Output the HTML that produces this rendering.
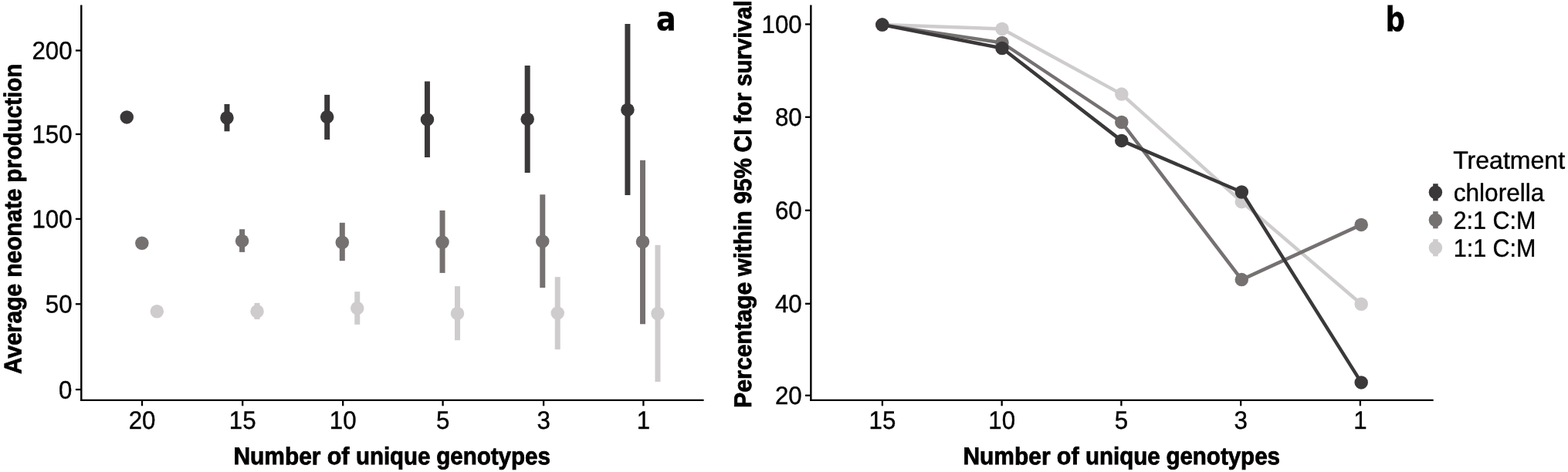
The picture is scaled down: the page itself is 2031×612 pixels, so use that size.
<!DOCTYPE html>
<html lang="en"><head><meta charset="utf-8"><title>Figure</title>
<style>html,body{margin:0;padding:0;background:#fff;}body{width:2031px;height:612px;overflow:hidden;}svg{display:block;}text{font-family:"Liberation Sans", Arial, Helvetica, sans-serif;fill:#000;}</style>
</head><body>
<svg width="2031" height="612" viewBox="0 0 2031 612" role="img" aria-label="Two-panel figure: (a) average neonate production and (b) percentage within 95% CI for survival, by number of unique genotypes and treatment">
<rect x="0" y="0" width="2031" height="612" fill="#ffffff"/>
<g id="panel-a">
<line x1="105.3" y1="6.4" x2="105.3" y2="520.07" stroke="#000000" stroke-width="2.4"/>
<line x1="104.1" y1="518.9" x2="911.6" y2="518.9" stroke="#000000" stroke-width="2.35"/>
<line x1="97.9" y1="65.5" x2="105.3" y2="65.5" stroke="#000000" stroke-width="2.3"/>
<line x1="97.9" y1="174" x2="105.3" y2="174" stroke="#000000" stroke-width="2.3"/>
<line x1="97.9" y1="283.9" x2="105.3" y2="283.9" stroke="#000000" stroke-width="2.3"/>
<line x1="97.9" y1="394.25" x2="105.3" y2="394.25" stroke="#000000" stroke-width="2.3"/>
<line x1="97.9" y1="505.1" x2="105.3" y2="505.1" stroke="#000000" stroke-width="2.3"/>
<line x1="184" y1="518.9" x2="184" y2="526.3" stroke="#000000" stroke-width="2.3"/>
<line x1="314.2" y1="518.9" x2="314.2" y2="526.3" stroke="#000000" stroke-width="2.3"/>
<line x1="444.2" y1="518.9" x2="444.2" y2="526.3" stroke="#000000" stroke-width="2.3"/>
<line x1="573.6" y1="518.9" x2="573.6" y2="526.3" stroke="#000000" stroke-width="2.3"/>
<line x1="704.1" y1="518.9" x2="704.1" y2="526.3" stroke="#000000" stroke-width="2.3"/>
<line x1="833.4" y1="518.9" x2="833.4" y2="526.3" stroke="#000000" stroke-width="2.3"/>
<g fill="#3a3839" stroke="#3a3839">
<circle cx="164.25" cy="151.9" r="8.75" stroke="none"/>
<line x1="293.98" y1="135" x2="293.98" y2="170.3" stroke-width="7.0"/>
<circle cx="293.98" cy="152.7" r="8.75" stroke="none"/>
<line x1="423.71" y1="122.9" x2="423.71" y2="181" stroke-width="7.0"/>
<circle cx="423.71" cy="151.6" r="8.75" stroke="none"/>
<line x1="553.44" y1="105.5" x2="553.44" y2="204" stroke-width="7.0"/>
<circle cx="553.44" cy="154.9" r="8.75" stroke="none"/>
<line x1="683.17" y1="85.1" x2="683.17" y2="224" stroke-width="7.0"/>
<circle cx="683.17" cy="154.4" r="8.75" stroke="none"/>
<line x1="812.9" y1="31.1" x2="812.9" y2="252.9" stroke-width="7.0"/>
<circle cx="812.9" cy="142.4" r="8.75" stroke="none"/>
</g>
<g fill="#767171" stroke="#767171">
<circle cx="183.85" cy="315.2" r="8.75" stroke="none"/>
<line x1="313.58" y1="297.2" x2="313.58" y2="326.9" stroke-width="7.0"/>
<circle cx="313.58" cy="312.4" r="8.75" stroke="none"/>
<line x1="443.31" y1="288.8" x2="443.31" y2="338.2" stroke-width="7.0"/>
<circle cx="443.31" cy="314.3" r="8.75" stroke="none"/>
<line x1="573.04" y1="272.85" x2="573.04" y2="353.9" stroke-width="7.0"/>
<circle cx="573.04" cy="314" r="8.75" stroke="none"/>
<line x1="702.77" y1="252.25" x2="702.77" y2="373.1" stroke-width="7.0"/>
<circle cx="702.77" cy="312.9" r="8.75" stroke="none"/>
<line x1="832.5" y1="207.8" x2="832.5" y2="420.3" stroke-width="7.0"/>
<circle cx="832.5" cy="313.55" r="8.75" stroke="none"/>
</g>
<g fill="#cfcccd" stroke="#cfcccd">
<circle cx="203.3" cy="403.7" r="8.75" stroke="none"/>
<line x1="333.03" y1="392.8" x2="333.03" y2="414" stroke-width="7.0"/>
<circle cx="333.03" cy="403.8" r="8.75" stroke="none"/>
<line x1="462.76" y1="378.1" x2="462.76" y2="420.8" stroke-width="7.0"/>
<circle cx="462.76" cy="399.6" r="8.75" stroke="none"/>
<line x1="592.49" y1="371.1" x2="592.49" y2="441.2" stroke-width="7.0"/>
<circle cx="592.49" cy="406.4" r="8.75" stroke="none"/>
<line x1="722.22" y1="359.15" x2="722.22" y2="453.1" stroke-width="7.0"/>
<circle cx="722.22" cy="405.9" r="8.75" stroke="none"/>
<line x1="851.95" y1="317.75" x2="851.95" y2="495" stroke-width="7.0"/>
<circle cx="851.95" cy="406.5" r="8.75" stroke="none"/>
</g>
<text transform="translate(41.41 76.75) rotate(0.03) scale(0.9550 1)" font-size="32.7" stroke="#000" stroke-width="0.4">200</text>
<text transform="translate(41.41 185.25) rotate(0.03) scale(0.9550 1)" font-size="32.7" stroke="#000" stroke-width="0.4">150</text>
<text transform="translate(41.41 295.15) rotate(0.03) scale(0.9550 1)" font-size="32.7" stroke="#000" stroke-width="0.4">100</text>
<text transform="translate(58.83 405.5) rotate(0.03) scale(0.9550 1)" font-size="32.7" stroke="#000" stroke-width="0.4">50</text>
<text transform="translate(76.02 516.85) rotate(0.03) scale(0.9550 1)" font-size="32.7" stroke="#000" stroke-width="0.4">0</text>
<text transform="translate(166.63 556.1) rotate(0.03) scale(0.9550 1)" font-size="32.7" stroke="#000" stroke-width="0.4">20</text>
<text transform="translate(296.83 556.1) rotate(0.03) scale(0.9550 1)" font-size="32.7" stroke="#000" stroke-width="0.4">15</text>
<text transform="translate(426.83 556.1) rotate(0.03) scale(0.9550 1)" font-size="32.7" stroke="#000" stroke-width="0.4">10</text>
<text transform="translate(564.92 556.1) rotate(0.03) scale(0.9550 1)" font-size="32.7" stroke="#000" stroke-width="0.4">5</text>
<text transform="translate(695.42 556.1) rotate(0.03) scale(0.9550 1)" font-size="32.7" stroke="#000" stroke-width="0.4">3</text>
<text transform="translate(824.72 556.1) rotate(0.03) scale(0.9550 1)" font-size="32.7" stroke="#000" stroke-width="0.4">1</text>
<text transform="translate(302.38 602.1) rotate(0.03) scale(0.9474 1)" font-size="31.6" font-weight="bold" stroke="#000" stroke-width="0.8">Number </text>
<text transform="translate(423.68 602.1) rotate(0.03) scale(0.9645 1)" font-size="31.6" font-weight="bold" stroke="#000" stroke-width="0.8">of </text>
<text transform="translate(460.91 602.1) rotate(0.03) scale(0.9329 1)" font-size="31.6" font-weight="bold" stroke="#000" stroke-width="0.8">unique </text>
<text transform="translate(565.31 602.1) rotate(0.03) scale(0.9341 1)" font-size="31.6" font-weight="bold" stroke="#000" stroke-width="0.8">genotypes</text>
<text transform="translate(27.4 484.93) rotate(-89.97) scale(0.9474 1)" font-size="31.6" font-weight="bold" stroke="#000" stroke-width="0.8">Average </text>
<text transform="translate(27.4 359.82) rotate(-89.97) scale(0.9512 1)" font-size="31.6" font-weight="bold" stroke="#000" stroke-width="0.8">neonate </text>
<text transform="translate(27.4 236.8) rotate(-89.97) scale(0.9351 1)" font-size="31.6" font-weight="bold" stroke="#000" stroke-width="0.8">production</text>
<text transform="translate(850.02 39.3) rotate(0.03) scale(0.9861 1)" font-size="43.0" style="font-family:'DejaVu Sans Condensed', 'DejaVu Sans', 'Liberation Sans', sans-serif" font-weight="bold" stroke="#000" stroke-width="0.3">a</text>
</g>
<g id="panel-b">
<line x1="1050.35" y1="6.4" x2="1050.35" y2="520.07" stroke="#000000" stroke-width="2.4"/>
<line x1="1049.15" y1="518.9" x2="1856.7" y2="518.9" stroke="#000000" stroke-width="2.35"/>
<line x1="1042.95" y1="31.45" x2="1050.35" y2="31.45" stroke="#000000" stroke-width="2.3"/>
<line x1="1042.95" y1="151.8" x2="1050.35" y2="151.8" stroke="#000000" stroke-width="2.3"/>
<line x1="1042.95" y1="272.75" x2="1050.35" y2="272.75" stroke="#000000" stroke-width="2.3"/>
<line x1="1042.95" y1="393.8" x2="1050.35" y2="393.8" stroke="#000000" stroke-width="2.3"/>
<line x1="1042.95" y1="512.75" x2="1050.35" y2="512.75" stroke="#000000" stroke-width="2.3"/>
<line x1="1142.9" y1="518.9" x2="1142.9" y2="526.3" stroke="#000000" stroke-width="2.3"/>
<line x1="1297.65" y1="518.9" x2="1297.65" y2="526.3" stroke="#000000" stroke-width="2.3"/>
<line x1="1452.4" y1="518.9" x2="1452.4" y2="526.3" stroke="#000000" stroke-width="2.3"/>
<line x1="1607.15" y1="518.9" x2="1607.15" y2="526.3" stroke="#000000" stroke-width="2.3"/>
<line x1="1761.9" y1="518.9" x2="1761.9" y2="526.3" stroke="#000000" stroke-width="2.3"/>
<polyline points="1142.8,32.1 1298,37.5 1452.8,122.1 1608.3,261.65 1763.2,394.2" fill="none" stroke="#cfcccd" stroke-width="4.5" stroke-linejoin="round" stroke-linecap="butt"/>
<circle cx="1142.8" cy="32.1" r="8.75" fill="#cfcccd"/>
<circle cx="1298" cy="37.5" r="8.75" fill="#cfcccd"/>
<circle cx="1452.8" cy="122.1" r="8.75" fill="#cfcccd"/>
<circle cx="1608.3" cy="261.65" r="8.75" fill="#cfcccd"/>
<circle cx="1763.2" cy="394.2" r="8.75" fill="#cfcccd"/>
<polyline points="1142.8,32.1 1298,55.5 1452.8,158.5 1608.3,362.6 1763.2,291.4" fill="none" stroke="#767171" stroke-width="4.5" stroke-linejoin="round" stroke-linecap="butt"/>
<circle cx="1142.8" cy="32.1" r="8.75" fill="#767171"/>
<circle cx="1298" cy="55.5" r="8.75" fill="#767171"/>
<circle cx="1452.8" cy="158.5" r="8.75" fill="#767171"/>
<circle cx="1608.3" cy="362.6" r="8.75" fill="#767171"/>
<circle cx="1763.2" cy="291.4" r="8.75" fill="#767171"/>
<polyline points="1142.8,32.1 1298,62.5 1452.8,182.4 1608.3,248.95 1763.2,495.9" fill="none" stroke="#3a3839" stroke-width="4.5" stroke-linejoin="round" stroke-linecap="butt"/>
<circle cx="1142.8" cy="32.1" r="8.75" fill="#3a3839"/>
<circle cx="1298" cy="62.5" r="8.75" fill="#3a3839"/>
<circle cx="1452.8" cy="182.4" r="8.75" fill="#3a3839"/>
<circle cx="1608.3" cy="248.95" r="8.75" fill="#3a3839"/>
<circle cx="1763.2" cy="495.9" r="8.75" fill="#3a3839"/>
<text transform="translate(986.56 42.7) rotate(0.03) scale(0.9550 1)" font-size="32.7" stroke="#000" stroke-width="0.4">100</text>
<text transform="translate(1003.98 163.05) rotate(0.03) scale(0.9550 1)" font-size="32.7" stroke="#000" stroke-width="0.4">80</text>
<text transform="translate(1003.98 284) rotate(0.03) scale(0.9550 1)" font-size="32.7" stroke="#000" stroke-width="0.4">60</text>
<text transform="translate(1003.98 405.05) rotate(0.03) scale(0.9550 1)" font-size="32.7" stroke="#000" stroke-width="0.4">40</text>
<text transform="translate(1003.98 524) rotate(0.03) scale(0.9550 1)" font-size="32.7" stroke="#000" stroke-width="0.4">20</text>
<text transform="translate(1125.53 556.1) rotate(0.03) scale(0.9550 1)" font-size="32.7" stroke="#000" stroke-width="0.4">15</text>
<text transform="translate(1280.28 556.1) rotate(0.03) scale(0.9550 1)" font-size="32.7" stroke="#000" stroke-width="0.4">10</text>
<text transform="translate(1443.72 556.1) rotate(0.03) scale(0.9550 1)" font-size="32.7" stroke="#000" stroke-width="0.4">5</text>
<text transform="translate(1598.47 556.1) rotate(0.03) scale(0.9550 1)" font-size="32.7" stroke="#000" stroke-width="0.4">3</text>
<text transform="translate(1753.22 556.1) rotate(0.03) scale(0.9550 1)" font-size="32.7" stroke="#000" stroke-width="0.4">1</text>
<text transform="translate(1247.48 602.1) rotate(0.03) scale(0.9474 1)" font-size="31.6" font-weight="bold" stroke="#000" stroke-width="0.8">Number </text>
<text transform="translate(1368.78 602.1) rotate(0.03) scale(0.9645 1)" font-size="31.6" font-weight="bold" stroke="#000" stroke-width="0.8">of </text>
<text transform="translate(1406.01 602.1) rotate(0.03) scale(0.9329 1)" font-size="31.6" font-weight="bold" stroke="#000" stroke-width="0.8">unique </text>
<text transform="translate(1510.41 602.1) rotate(0.03) scale(0.9341 1)" font-size="31.6" font-weight="bold" stroke="#000" stroke-width="0.8">genotypes</text>
<text transform="translate(973 528.93) rotate(-89.97) scale(0.9589 1)" font-size="31.6" font-weight="bold" stroke="#000" stroke-width="0.8">Percentage </text>
<text transform="translate(973 358.13) rotate(-89.97) scale(0.9306 1)" font-size="31.6" font-weight="bold" stroke="#000" stroke-width="0.8">within </text>
<text transform="translate(973 264.57) rotate(-89.97) scale(0.9422 1)" font-size="31.6" font-weight="bold" stroke="#000" stroke-width="0.8">95% </text>
<text transform="translate(973 197.51) rotate(-89.97) scale(0.9535 1)" font-size="31.6" font-weight="bold" stroke="#000" stroke-width="0.8">CI </text>
<text transform="translate(973 159.79) rotate(-89.97) scale(0.9417 1)" font-size="31.6" font-weight="bold" stroke="#000" stroke-width="0.8">for </text>
<text transform="translate(973 111.89) rotate(-89.97) scale(0.9324 1)" font-size="31.6" font-weight="bold" stroke="#000" stroke-width="0.8">survival</text>
<text transform="translate(1794.43 40.3) rotate(0.03) scale(0.8950 1)" font-size="44.2" style="font-family:'DejaVu Sans Condensed', 'DejaVu Sans', 'Liberation Sans', sans-serif" font-weight="bold" stroke="#000" stroke-width="0.3">b</text>
</g>
<g id="legend">
<line x1="1859.4" y1="238.2" x2="1859.4" y2="260.4" stroke="#3a3839" stroke-width="6.5"/>
<circle cx="1859.4" cy="249.3" r="8.75" fill="#3a3839"/>
<line x1="1859.4" y1="274.1" x2="1859.4" y2="296.3" stroke="#767171" stroke-width="6.5"/>
<circle cx="1859.4" cy="285.2" r="8.75" fill="#767171"/>
<line x1="1859.4" y1="310.1" x2="1859.4" y2="332.3" stroke="#cfcccd" stroke-width="6.5"/>
<circle cx="1859.4" cy="321.2" r="8.75" fill="#cfcccd"/>
<text transform="translate(1882.15 218.8) rotate(0.03) scale(0.9931 1)" font-size="32.3" stroke="#000" stroke-width="0.4">Treatment</text>
<text transform="translate(1882.73 260.8) rotate(0.03) scale(0.9786 1)" font-size="32.3" stroke="#000" stroke-width="0.4">chlorella</text>
<text transform="translate(1882.53 296.8) rotate(0.03) scale(0.9459 1)" font-size="32.3" stroke="#000" stroke-width="0.4">2:1 C:M</text>
<text transform="translate(1882.73 332.7) rotate(0.03) scale(0.9442 1)" font-size="32.3" stroke="#000" stroke-width="0.4">1:1 C:M</text>
</g>
</svg>
</body></html>
